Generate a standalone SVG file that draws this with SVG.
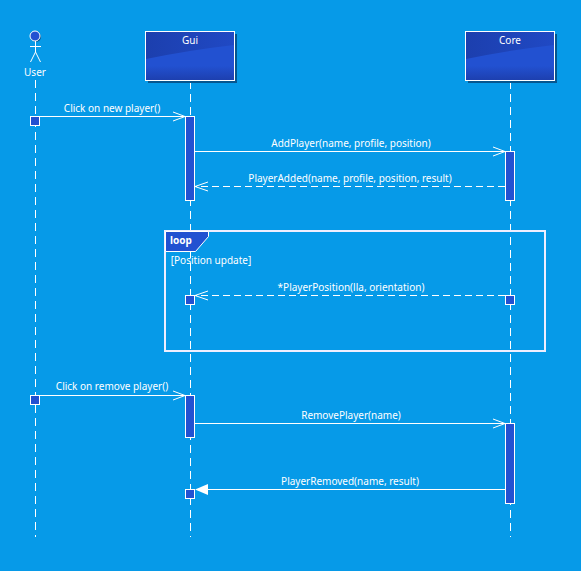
<svg xmlns="http://www.w3.org/2000/svg" width="581" height="571" viewBox="0 0 581 571">
<style>
text{font-family:"Noto Sans","Open Sans","Liberation Sans",sans-serif;font-size:10px;fill:#fff;text-anchor:middle}
.ll{stroke:#fff;stroke-width:1;stroke-dasharray:8 5;fill:none}
.msg{stroke:#fff;stroke-width:1;fill:none}
.dash{stroke:#fff;stroke-width:1;stroke-dasharray:7 4;fill:none}
.head{stroke:#fff;stroke-width:1;fill:none}
.act{fill:#2251d1;stroke:#fff;stroke-width:1}
.box{fill:url(#g);stroke:#fff;stroke-width:1}
.sh{fill:#05568f}
.sheen{fill:url(#s)}
</style>
<defs>
<linearGradient id="g" x1="0" y1="0" x2="0" y2="1">
<stop offset="0" stop-color="#2251d1"/><stop offset=".7" stop-color="#2251d1"/><stop offset="1" stop-color="#1d3fae"/>
</linearGradient>
<linearGradient id="s" x1="0" y1="0" x2="1" y2="0">
<stop offset="0" stop-color="#1c3fae"/><stop offset="1" stop-color="#2049c4"/>
</linearGradient>
</defs>
<rect width="581" height="571" fill="#069ae8"/>
<g id="connectors">
<path class="ll" d="M35.5 80V537"/>
<path class="ll" d="M190.5 81V537"/>
<path class="ll" d="M510.5 81V537"/>
<path class="msg" d="M39.5 116.5H185"/><path class="head" d="M173 112L185 116.5L173 121"/>
<path class="msg" d="M194.5 151.5H505"/><path class="head" d="M493 147L505 151.5L493 156"/>
<path class="dash" d="M505 186.5H195"/><path class="head" d="M208 182L195 186.5L208 191"/>
<path class="dash" d="M505 295.5H195"/><path class="head" d="M208 291L195 295.5L208 300"/>
<path class="msg" d="M39.5 395.5H185"/><path class="head" d="M173 391L185 395.5L173 400"/>
<path class="msg" d="M194.5 423.5H505"/><path class="head" d="M493 419L505 423.5L493 428"/>
<path class="msg" d="M505 489.5H207"/><path d="M195 489.5L208 484V495Z" fill="#fff"/>
</g>
<g id="user">
<circle cx="36" cy="37" r="5" fill="#05568f"/>
<circle cx="35" cy="36" r="5" fill="#2251d1" stroke="#fff"/>
<path d="M35.5 41V52M30 46.5H41M35.5 52L30.5 62M35.5 52L40.5 62" stroke="#fff" fill="none"/>
<text x="35" y="76">User</text>
</g>
<g id="gui">
<rect class="sh" x="148" y="34" width="89" height="49"/>
<rect class="box" x="145.5" y="31.5" width="89" height="49"/>
<path class="sheen" d="M146 32H234V45Q190 50 146 59Z"/>
<text x="190" y="44">Gui</text>
</g>
<g id="core">
<rect class="sh" x="468" y="34" width="89" height="49"/>
<rect class="box" x="465.5" y="31.5" width="89" height="49"/>
<path class="sheen" d="M466 32H554V45Q510 50 466 59Z"/>
<text x="510" y="44">Core</text>
</g>
<g id="activations">
<rect class="act" x="30.5" y="116.5" width="9" height="9"/>
<rect class="act" x="185.5" y="116.5" width="9" height="84"/>
<rect class="act" x="505.5" y="151.5" width="9" height="49"/>
<rect class="act" x="185.5" y="295.5" width="9" height="9"/>
<rect class="act" x="505.5" y="295.5" width="9" height="9"/>
<rect class="act" x="30.5" y="395.5" width="9" height="9"/>
<rect class="act" x="185.5" y="395.5" width="9" height="42"/>
<rect class="act" x="505.5" y="423.5" width="9" height="80"/>
<rect class="act" x="185.5" y="489.5" width="9" height="9"/>
</g>
<g id="loop">
<rect x="165" y="231" width="380" height="120" fill="none" stroke="#eef" stroke-width="2"/>
<path d="M165.5 231.5H208.5V236.5L195.5 251.5H165.5Z" fill="#2251d1" stroke="#fff"/>
<text x="181" y="244" style="font-weight:bold">loop</text>
<text x="211" y="264">[Position update]</text>
</g>
<g id="labels">
<text x="112" y="112">Click on new player()</text>
<text x="351" y="147">AddPlayer(name, profile, position)</text>
<text x="350" y="182">PlayerAdded(name, profile, position, result)</text>
<text x="351" y="291">*PlayerPosition(lla, orientation)</text>
<text x="112" y="390">Click on remove player()</text>
<text x="351" y="419">RemovePlayer(name)</text>
<text x="350" y="485">PlayerRemoved(name, result)</text>
</g>
</svg>
